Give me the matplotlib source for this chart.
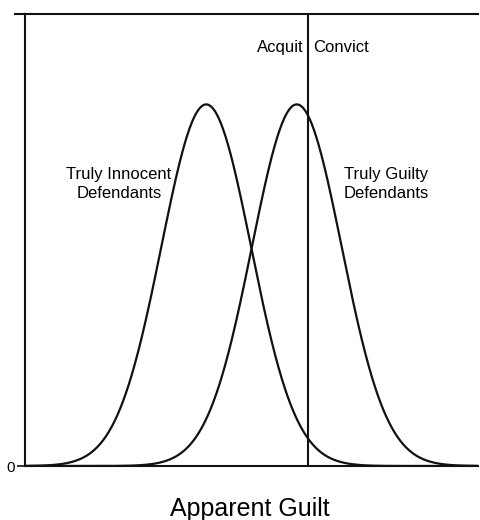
import numpy as np
import matplotlib
matplotlib.use("Agg")
import matplotlib.pyplot as plt
from matplotlib.lines import Line2D

# Data (in arbitrary "apparent guilt" units)
group_labels = ["Truly Innocent\nDefendants", "Truly Guilty\nDefendants"]
group_means = [4.0, 6.0]
group_sds = [0.99, 0.99]
threshold = 6.25
decision_labels = ["Acquit", "Convict"]
x_min, x_max = 0.0, 10.0
y_peak_fraction = 0.8

plt.rcParams['font.family'] = ['Liberation Sans', 'DejaVu Sans']

fig = plt.figure(figsize=(4.8, 5.2), dpi=100)
ax = fig.add_axes([25/480, 54/520, 453/480, 452/520])

x = np.linspace(x_min, x_max, 800)
for m, s in zip(group_means, group_sds):
    y = np.exp(-0.5 * ((x - m) / s) ** 2)
    ax.plot(x, y, color='#111111', lw=1.6, solid_capstyle='round')

ax.axvline(threshold, color='#111111', lw=1.5)

ax.set_xlim(x_min, x_max)
ax.set_ylim(0, 1 / y_peak_fraction)

ax.spines['right'].set_visible(False)
for side in ['left', 'bottom', 'top']:
    ax.spines[side].set_linewidth(1.5)
    ax.spines[side].set_color('#111111')

ax.set_xticks([])
ax.set_yticks([0])
ax.set_yticklabels(['0'], fontsize=11)
ax.tick_params(axis='y', length=6, width=1.2, pad=1, color='#111111')

# extend the top rule a bit to the left
fig.add_artist(Line2D([15/480, 25/480], [506/520, 506/520], color='#111111', lw=1.5))

# decision labels
ax.text(threshold - 0.11, 1.158, decision_labels[0], ha='right', va='center', fontsize=12)
ax.text(threshold + 0.1, 1.158, decision_labels[1], ha='left', va='center', fontsize=12)

# group labels
ax.text(2.07, 0.78, group_labels[0], ha='center', va='center', fontsize=12, linespacing=1.35)
ax.text(7.97, 0.78, group_labels[1], ha='center', va='center', fontsize=12, linespacing=1.35)

fig.text(250/480, 1 - 509/520, "Apparent Guilt", ha='center', va='center', fontsize=18)

fig.savefig("out.png", dpi=100)
